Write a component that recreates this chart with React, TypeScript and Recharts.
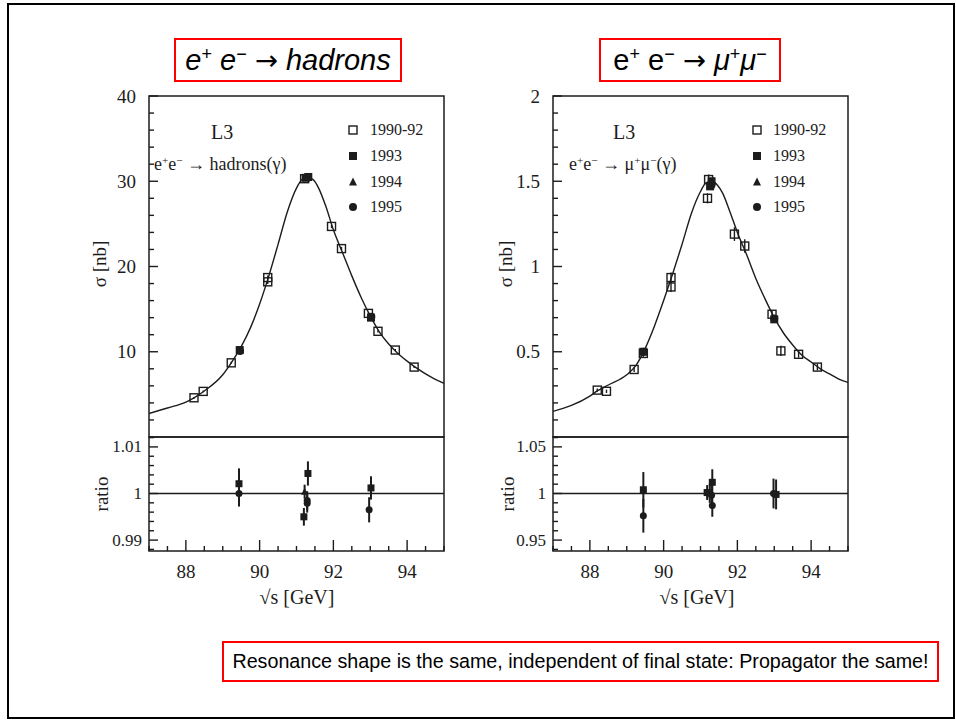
import React from 'react';
import { ComposedChart, Line, Scatter, XAxis, YAxis, ReferenceArea, ReferenceLine, ErrorBar } from 'recharts';

// ---------- axis ticks ----------
const xTicks = [87, 87.5, 88, 88.5, 89, 89.5, 90, 90.5, 91, 91.5, 92, 92.5, 93, 93.5, 94, 94.5, 95];
const xTickLabels = [88, 90, 92, 94];

const hadTicks = [0, 2, 4, 6, 8, 10, 12, 14, 16, 18, 20, 22, 24, 26, 28, 30, 32, 34, 36, 38, 40];
const hadTickLabels = [10, 20, 30, 40];
const muTicks = [0, 0.1, 0.2, 0.3, 0.4, 0.5, 0.6, 0.7, 0.8, 0.9, 1, 1.1, 1.2, 1.3, 1.4, 1.5, 1.6, 1.7, 1.8, 1.9, 2];
const muTickLabels = [0.5, 1, 1.5, 2];
const ratioHadTicks = [0.988, 0.99, 0.992, 0.994, 0.996, 0.998, 1, 1.002, 1.004, 1.006, 1.008, 1.01, 1.012];
const ratioHadTickLabels = [0.99, 1, 1.01];
const ratioMuTicks = [0.94, 0.95, 0.96, 0.97, 0.98, 0.99, 1, 1.01, 1.02, 1.03, 1.04, 1.05, 1.06];
const ratioMuTickLabels = [0.95, 1, 1.05];

// ---------- fitted curves ----------
const hadCurveX = [87, 87.5, 88, 88.22, 88.5, 89, 89.23, 89.5, 89.75, 90, 90.25, 90.5, 90.75, 91, 91.15, 91.3, 91.45, 91.6, 91.8, 92, 92.25, 92.5, 92.75, 93, 93.25, 93.5, 93.75, 94, 94.25, 94.5, 94.75, 95];
const hadCurveY = [2.75, 3.4, 4.1, 4.6, 5.4, 7.3, 8.7, 10.6, 12.8, 15.6, 18.9, 22.6, 26.4, 29.2, 30.2, 30.5, 30.2, 29.2, 27.0, 24.3, 21.6, 18.9, 16.4, 14.2, 12.3, 10.9, 9.8, 8.9, 8.1, 7.4, 6.8, 6.3];

const muCurveX = [87, 87.5, 88, 88.2, 88.5, 89, 89.25, 89.5, 89.75, 90, 90.25, 90.5, 90.75, 91, 91.15, 91.3, 91.45, 91.6, 91.8, 92, 92.25, 92.5, 92.75, 93, 93.25, 93.5, 93.75, 94, 94.25, 94.5, 94.75, 95];
const muCurveY = [0.15, 0.185, 0.24, 0.27, 0.305, 0.365, 0.42, 0.52, 0.65, 0.8, 0.96, 1.13, 1.31, 1.44, 1.49, 1.5, 1.48, 1.43, 1.32, 1.2, 1.07, 0.93, 0.81, 0.7, 0.61, 0.54, 0.48, 0.44, 0.4, 0.37, 0.34, 0.32];

// ---------- measurements [sqrt(s), value, error] ----------
const had1990_92: number[][] = [[88.22, 4.6, 0.1], [88.47, 5.35, 0.1], [89.23, 8.7, 0.12], [90.22, 18.7, 0.25], [90.22, 18.2, 0.25], [91.22, 30.3, 0.2], [91.95, 24.7, 0.2], [92.22, 22.1, 0.2], [92.95, 14.5, 0.15], [93.21, 12.4, 0.15], [93.68, 10.2, 0.12], [94.19, 8.2, 0.12]];
const had1993: number[][] = [[89.46, 10.2, 0.1], [91.25, 30.4, 0.1], [91.32, 30.5, 0.1], [93.02, 14.0, 0.1]];
const had1994: number[][] = [[91.3, 30.45, 0.1]];
const had1995: number[][] = [[89.47, 10.1, 0.1], [91.3, 30.5, 0.1], [93.03, 14.1, 0.1]];

const mu1990_92: number[][] = [[88.2, 0.275, 0.01], [88.45, 0.268, 0.01], [89.2, 0.396, 0.015], [89.45, 0.49, 0.02], [90.2, 0.88, 0.03], [90.2, 0.935, 0.03], [91.19, 1.4, 0.03], [91.22, 1.51, 0.03], [91.92, 1.19, 0.04], [92.2, 1.12, 0.04], [92.94, 0.72, 0.025], [93.18, 0.505, 0.03], [93.66, 0.485, 0.02], [94.17, 0.41, 0.02]];
const mu1993: number[][] = [[89.45, 0.5, 0.01], [91.26, 1.47, 0.01], [91.3, 1.5, 0.01], [93.0, 0.69, 0.01]];
const mu1994: number[][] = [[91.28, 1.48, 0.01]];
const mu1995: number[][] = [[89.45, 0.5, 0.01], [91.3, 1.48, 0.01], [93.0, 0.695, 0.01]];

const ratioHad1993: number[][] = [[89.44, 1.0021, 0.0033], [91.2, 0.995, 0.0019], [91.31, 1.0043, 0.0026], [93.02, 1.0012, 0.0025]];
const ratioHad1994: number[][] = [[91.22, 1.0004, 0.0015]];
const ratioHad1995: number[][] = [[89.44, 1.0, 0.0028], [91.29, 0.9985, 0.002], [91.29, 0.9979, 0.002], [92.97, 0.9965, 0.0027]];

const ratioMu1993: number[][] = [[89.45, 1.004, 0.019], [91.18, 1.001, 0.008], [91.32, 1.012, 0.014], [93.05, 0.999, 0.016]];
const ratioMu1994: number[][] = [[91.25, 1.0, 0.01]];
const ratioMu1995: number[][] = [[89.45, 0.976, 0.018], [91.3, 0.998, 0.012], [91.32, 0.987, 0.012], [92.98, 1.0, 0.016]];

const legendLabels = ['1990-92', '1993', '1994', '1995'];

// ---------- styling ----------
const INK = '#1c1c1c';
const SERIF = "'Liberation Serif', 'Times New Roman', serif";
const SANS = "'Liberation Sans', Arial, sans-serif";
const RED = '#ff0000';

const toPts = (arr: number[][]) => arr.map(([x, y, err]) => ({ x, y, err }));
const toCurve = (xs: number[], ys: number[]) => xs.map((x, i) => ({ x, y: ys[i] }));
const isIn = (v: number, list: number[]) => list.some((l) => Math.abs(l - v) < 1e-9);

const markerShape = (kind: string, size: number) => (p: any) => {
  const { cx, cy } = p;
  if (cx == null || cy == null) return <g />;
  const h = size / 2;
  if (kind === 'open') return <rect x={cx - h} y={cy - h} width={size} height={size} fill="none" stroke={INK} strokeWidth={1.4} />;
  if (kind === 'square') return <rect x={cx - h} y={cy - h} width={size} height={size} fill={INK} />;
  if (kind === 'triangle') return <path d={`M${cx},${cy - h - 0.5}L${cx + h},${cy + h - 0.5}L${cx - h},${cy + h - 0.5}Z`} fill={INK} />;
  return <circle cx={cx} cy={cy} r={h} fill={INK} />;
};

const makeYTick = (labels: number[], fontSize: number, gap: number) => (p: any) => {
  const { x, y, payload } = p;
  const v = payload.value;
  const major = isIn(v, labels);
  return (
    <g>
      <line x1={x} x2={x + (major ? 9 : 5)} y1={y} y2={y} stroke={INK} strokeWidth={1.4} />
      {major && (
        <text x={x - gap} y={y} textAnchor="end" dominantBaseline="central" fontFamily={SERIF} fontSize={fontSize} fill={INK}>
          {String(v)}
        </text>
      )}
    </g>
  );
};

const renderXTick = (p: any) => {
  const { x, y, payload } = p;
  const v = payload.value;
  const major = isIn(v, xTickLabels);
  return (
    <g>
      <line x1={x} x2={x} y1={y} y2={y - (major ? 11 : 5)} stroke={INK} strokeWidth={1.4} />
      {major && (
        <text x={x} y={y + 20} textAnchor="middle" dominantBaseline="central" fontFamily={SERIF} fontSize={19} fill={INK}>
          {String(v)}
        </text>
      )}
    </g>
  );
};

type Series = { data: number[][]; kind: string };

function MainPanel(props: { left: number; curve: { x: number; y: number }[]; series: Series[]; ticks: number[]; labels: number[]; domain: [number, number] }) {
  const { left, curve, series, ticks, labels, domain } = props;
  return (
    <div style={{ position: 'absolute', left, top: 0 }}>
      <ComposedChart width={460} height={440} margin={{ top: 96, right: 16, bottom: 3, left: 0 }}>
        <XAxis type="number" dataKey="x" domain={[87, 95]} hide allowDataOverflow />
        <YAxis type="number" domain={domain} ticks={ticks} interval={0} width={149} tickSize={0} tickMargin={0} axisLine={false} tickLine={false} tick={makeYTick(labels, 19, 13)} allowDataOverflow />
        <ReferenceArea x1={87} x2={95} y1={domain[0]} y2={domain[1]} fill="none" fillOpacity={0} stroke={INK} strokeWidth={1.5} ifOverflow="visible" />
        <Line data={curve} dataKey="y" type="monotone" stroke={INK} strokeWidth={1.4} dot={false} isAnimationActive={false} />
        {series.map((s, i) => (
          <Scatter key={i} data={toPts(s.data)} dataKey="y" shape={markerShape(s.kind, 8)} isAnimationActive={false}>
            <ErrorBar dataKey="err" direction="y" width={0} stroke={INK} strokeWidth={1.4} isAnimationActive={false} />
          </Scatter>
        ))}
      </ComposedChart>
    </div>
  );
}

function RatioPanel(props: { left: number; series: Series[]; ticks: number[]; labels: number[]; domain: [number, number] }) {
  const { left, series, ticks, labels, domain } = props;
  return (
    <div style={{ position: 'absolute', left, top: 400 }}>
      <ComposedChart width={460} height={230} margin={{ top: 37, right: 16, bottom: 0, left: 0 }}>
        <XAxis type="number" dataKey="x" domain={[87, 95]} ticks={xTicks} interval={0} height={79} tickSize={0} tickMargin={0} axisLine={false} tickLine={false} tick={renderXTick} allowDataOverflow />
        <YAxis type="number" domain={domain} ticks={ticks} interval={0} width={149} tickSize={0} tickMargin={0} axisLine={false} tickLine={false} tick={makeYTick(labels, 17, 7)} allowDataOverflow />
        <ReferenceArea x1={87} x2={95} y1={domain[0]} y2={domain[1]} fill="none" fillOpacity={0} stroke={INK} strokeWidth={1.5} ifOverflow="visible" />
        <ReferenceLine y={1} stroke={INK} strokeWidth={1.5} />
        {series.map((s, i) => (
          <Scatter key={i} data={toPts(s.data)} dataKey="y" shape={markerShape(s.kind, 7)} isAnimationActive={false}>
            <ErrorBar dataKey="err" direction="y" width={0} stroke={INK} strokeWidth={2} isAnimationActive={false} />
          </Scatter>
        ))}
      </ComposedChart>
    </div>
  );
}

const Sup = ({ children }: { children: React.ReactNode }) => (
  <span style={{ fontSize: '0.62em', verticalAlign: '0.55em', lineHeight: 0 }}>{children}</span>
);

function Legend(props: { markerX: number; textX: number }) {
  const rows = [130, 156, 182, 207];
  const kinds = ['open', 'square', 'triangle', 'circle'];
  return (
    <>
      {legendLabels.map((lab, i) => (
        <React.Fragment key={lab}>
          <svg style={{ position: 'absolute', left: props.markerX - 6, top: rows[i] - 6 }} width={12} height={12}>
            {markerShape(kinds[i], 8)({ cx: 6, cy: 6 })}
          </svg>
          <div style={{ position: 'absolute', left: props.textX, top: rows[i] - 10, height: 20, lineHeight: '20px', fontFamily: SERIF, fontSize: 16, color: INK, whiteSpace: 'nowrap' }}>
            {lab}
          </div>
        </React.Fragment>
      ))}
    </>
  );
}

const abs = (left: number, top: number, extra: React.CSSProperties = {}): React.CSSProperties => ({ position: 'absolute', left, top, whiteSpace: 'nowrap', ...extra });

const Arrow = () => <span style={{ fontFamily: "'DejaVu Sans', sans-serif", fontSize: '0.95em', fontStyle: 'normal' }}>→</span>;

export default function App() {
  const hadCurve = toCurve(hadCurveX, hadCurveY);
  const muCurve = toCurve(muCurveX, muCurveY);
  return (
    <div style={{ position: 'absolute', left: 0, top: 0, width: 956, height: 721, background: '#fff', overflow: 'hidden' }}>
      {/* slide frame */}
      <div style={{ position: 'absolute', left: 7, top: 3, width: 944, height: 712, border: '2px solid #000' }} />

      {/* titles */}
      <div style={{ position: 'absolute', left: 174, top: 38, width: 224, height: 40, border: '2px solid ' + RED, fontFamily: SANS, fontSize: 29, lineHeight: '40px', textAlign: 'center', color: '#000', whiteSpace: 'nowrap' }}>
        <i>e</i><Sup>+</Sup> <i>e</i><Sup>−</Sup> <Arrow /> <i>hadrons</i>
      </div>
      <div style={{ position: 'absolute', left: 599, top: 38, width: 178, height: 40, border: '2px solid ' + RED, fontFamily: SANS, fontSize: 29, lineHeight: '40px', textAlign: 'center', color: '#000', whiteSpace: 'nowrap' }}>
        e<Sup>+</Sup> e<Sup>−</Sup> <Arrow /> <i>μ</i><Sup>+</Sup><i>μ</i><Sup>−</Sup>
      </div>

      <MainPanel left={0} curve={hadCurve} ticks={hadTicks} labels={hadTickLabels} domain={[0, 40]}
        series={[{ data: had1990_92, kind: 'open' }, { data: had1993, kind: 'square' }, { data: had1994, kind: 'triangle' }, { data: had1995, kind: 'circle' }]} />
      <RatioPanel left={0} ticks={ratioHadTicks} labels={ratioHadTickLabels} domain={[0.98766, 1.01213]}
        series={[{ data: ratioHad1993, kind: 'square' }, { data: ratioHad1994, kind: 'triangle' }, { data: ratioHad1995, kind: 'circle' }]} />
      <MainPanel left={404} curve={muCurve} ticks={muTicks} labels={muTickLabels} domain={[0, 2]}
        series={[{ data: mu1990_92, kind: 'open' }, { data: mu1993, kind: 'square' }, { data: mu1994, kind: 'triangle' }, { data: mu1995, kind: 'circle' }]} />
      <RatioPanel left={404} ticks={ratioMuTicks} labels={ratioMuTickLabels} domain={[0.9383, 1.0606]}
        series={[{ data: ratioMu1993, kind: 'square' }, { data: ratioMu1994, kind: 'triangle' }, { data: ratioMu1995, kind: 'circle' }]} />

      {/* in-plot annotations */}
      <div style={abs(211, 120, { fontFamily: SERIF, fontSize: 20, lineHeight: '24px', color: INK })}>L3</div>
      <div style={abs(154, 153, { fontFamily: SERIF, fontSize: 18, lineHeight: '22px', color: INK })}>
        e<Sup>+</Sup>e<Sup>−</Sup> → hadrons(γ)
      </div>
      <div style={abs(613, 120, { fontFamily: SERIF, fontSize: 20, lineHeight: '24px', color: INK })}>L3</div>
      <div style={abs(569, 153, { fontFamily: SERIF, fontSize: 18, lineHeight: '22px', color: INK })}>
        e<Sup>+</Sup>e<Sup>−</Sup> → μ<Sup>+</Sup>μ<Sup>−</Sup>(γ)
      </div>
      <Legend markerX={353} textX={370} />
      <Legend markerX={757} textX={773} />

      {/* axis titles */}
      {[100, 506].map((cx) => (
        <React.Fragment key={cx}>
          <div style={abs(cx, 264, { fontFamily: SERIF, fontSize: 19, color: INK, transform: 'translate(-50%, -50%) rotate(-90deg)' })}>σ [nb]</div>
          <div style={abs(cx + 2, 494, { fontFamily: SERIF, fontSize: 19, color: INK, transform: 'translate(-50%, -50%) rotate(-90deg)' })}>ratio</div>
        </React.Fragment>
      ))}
      {[297, 697].map((cx) => (
        <div key={cx} style={abs(cx, 597, { fontFamily: SERIF, fontSize: 20, color: INK, transform: 'translate(-50%, -50%)' })}>√s [GeV]</div>
      ))}

      {/* caption */}
      <div style={{ position: 'absolute', left: 222, top: 641, width: 713, height: 37, border: '2px solid ' + RED, fontFamily: SANS, fontSize: 19.7, lineHeight: '37px', textAlign: 'center', color: '#000', whiteSpace: 'nowrap' }}>
        Resonance shape is the same, independent of final state: Propagator the same!
      </div>
    </div>
  );
}
